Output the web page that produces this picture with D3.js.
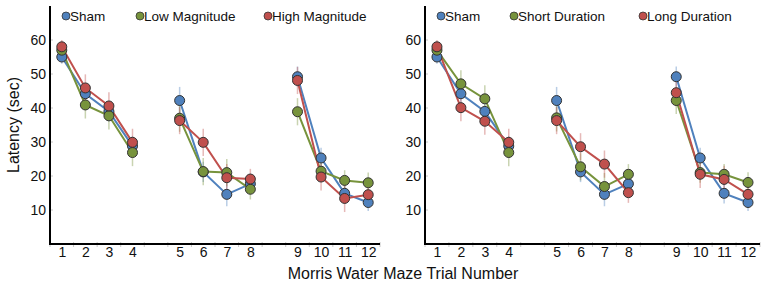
<!DOCTYPE html>
<html>
<head>
<meta charset="utf-8">
<script src="https://cdn.jsdelivr.net/npm/d3@7"></script>
<style>
	body { margin: 0; background: #fff; }
	text { font-family: "Liberation Sans", Arial, sans-serif; fill: #111; }
</style>
</head>
<body>
<div id="chart"></div>
<script>

var trials = [1, 2, 3, 4, 5, 6, 7, 8, 9, 10, 11, 12];
var yTicks = [10, 20, 30, 40, 50, 60];

// sham is shared by both panels
var sham      = [55.0, 44.2, 39.0, 28.8, 42.2, 21.2, 14.6, 17.7, 49.2, 25.3, 14.9, 12.2];
var shamErr   = [2.0, 3.0, 3.0, 3.0, 4.0, 3.0, 3.5, 3.0, 3.0, 3.0, 3.0, 2.5];

var lowMag    = [57.0, 40.9, 37.7, 26.9, 37.0, 21.3, 21.0, 16.1, 38.9, 21.4, 18.7, 18.0];
var lowErr    = [2.0, 4.0, 4.0, 4.0, 4.0, 4.0, 4.0, 3.0, 4.0, 3.0, 3.0, 3.0];
var highMag   = [58.0, 45.9, 40.6, 29.9, 36.3, 29.9, 19.5, 19.1, 48.1, 19.7, 13.4, 14.5];
var highErr   = [2.0, 4.0, 4.0, 4.0, 4.0, 4.0, 4.0, 3.0, 4.0, 4.0, 4.0, 3.0];

var shortDur  = [57.0, 47.1, 42.7, 26.9, 37.1, 22.7, 16.9, 20.5, 42.2, 21.0, 20.5, 18.1];
var shortErr  = [2.0, 4.0, 4.0, 4.0, 4.0, 4.0, 4.0, 3.0, 4.0, 3.0, 3.0, 3.0];
var longDur   = [58.0, 40.1, 36.1, 29.9, 36.3, 28.6, 23.5, 15.1, 44.5, 20.5, 19.0, 14.6];
var longErr   = [2.0, 4.0, 4.0, 4.0, 4.0, 4.0, 4.0, 3.0, 4.0, 4.0, 4.0, 3.0];

var blue = "#4f81bd";
var green = "#77933c";
var red = "#c0504d";

function init(){

	var w = 764;
	var h = 285;
	var top = 6, bottom = 244;

	var svg = d3.select("#chart")
				.append("svg")
				.attr("width", w)
				.attr("height", h);

	var yScale = d3.scaleLinear()
					.domain([0, 70])
					.range([bottom, top]);

	// slot position leaves a blank slot between each block of 4 trials
	function slot(t){
		return t + Math.floor((t - 1) / 4);
	}

	function drawPanel(x0, x1, series, legendX){
		var xScale = d3.scaleLinear()
						.domain([0.5, 14.5])
						.range([x0, x1]);

		var g = svg.append("g");

		// small grey ticks between the trials
		var halfTicks = d3.range(0.5, 15, 1);
		g.selectAll(".minor")
			.data(halfTicks)
			.enter()
			.append("line")
			.attr("x1", function(d){ return xScale(d); })
			.attr("x2", function(d){ return xScale(d); })
			.attr("y1", bottom - 2)
			.attr("y2", bottom + 3)
			.attr("stroke", "#c8c8c8")
			.attr("stroke-width", 1);

		g.selectAll(".ytk")
			.data(yTicks)
			.enter()
			.append("line")
			.attr("x1", x0)
			.attr("x2", x0 + 3)
			.attr("y1", function(d){ return yScale(d); })
			.attr("y2", function(d){ return yScale(d); })
			.attr("stroke", "#c8c8c8");

		var xAxis = d3.axisBottom()
						.scale(xScale)
						.tickValues(trials.map(slot))
						.tickSize(0)
						.tickPadding(3)
						.tickFormat(function(d, i){ return trials[i]; });

		var xg = g.append("g")
			.attr("transform", "translate(0," + bottom + ")")
			.call(xAxis);
		xg.select(".domain").remove();
		xg.selectAll("text").attr("font-size", 14).attr("fill", "#111");

		var yAxis = d3.axisLeft()
						.scale(yScale)
						.tickValues(yTicks)
						.tickSize(0)
						.tickPadding(4);

		var yg = g.append("g")
			.attr("transform", "translate(" + x0 + ",0)")
			.call(yAxis);
		yg.select(".domain").remove();
		yg.selectAll("text").attr("font-size", 14).attr("fill", "#111");

		// axis lines
		g.append("line")
			.attr("x1", x0).attr("x2", x0)
			.attr("y1", top).attr("y2", bottom + 1)
			.attr("stroke", "#000").attr("stroke-width", 2);
		g.append("line")
			.attr("x1", x0 - 1).attr("x2", x1)
			.attr("y1", bottom).attr("y2", bottom)
			.attr("stroke", "#000").attr("stroke-width", 2);

		series.forEach(function(s){
			var pts = trials.map(function(t, i){
				return {t: t, v: s.values[i], e: s.err[i]};
			});

			// error bars
			g.selectAll(null)
				.data(pts)
				.enter()
				.append("line")
				.attr("x1", function(d){ return xScale(slot(d.t)); })
				.attr("x2", function(d){ return xScale(slot(d.t)); })
				.attr("y1", function(d){ return yScale(d.v - d.e); })
				.attr("y2", function(d){ return yScale(d.v + d.e); })
				.attr("stroke", s.color)
				.attr("stroke-opacity", 0.4)
				.attr("stroke-width", 1.5);
		});

		series.forEach(function(s){
			var pts = trials.map(function(t, i){
				return {t: t, v: s.values[i]};
			});

			var line = d3.line()
							.x(function(d){ return xScale(slot(d.t)); })
							.y(function(d){ return yScale(d.v); });

			// one line per block of four trials
			[0, 1, 2].forEach(function(b){
				g.append("path")
					.datum(pts.slice(b * 4, b * 4 + 4))
					.attr("d", line)
					.attr("fill", "none")
					.attr("stroke", s.color)
					.attr("stroke-width", 2);
			});
		});

		series.forEach(function(s){
			g.selectAll(null)
				.data(trials)
				.enter()
				.append("circle")
				.attr("cx", function(d){ return xScale(slot(d)); })
				.attr("cy", function(d, i){ return yScale(s.values[i]); })
				.attr("r", 5)
				.attr("fill", s.color)
				.attr("stroke", "#333")
				.attr("stroke-width", 1);
		});

		// legend
		series.forEach(function(s, i){
			var lg = g.append("g")
				.attr("transform", "translate(" + legendX[i] + ",16)");
			lg.append("circle")
				.attr("r", 4)
				.attr("fill", s.color)
				.attr("stroke", "#333")
				.attr("stroke-width", 0.8);
			lg.append("text")
				.attr("x", 4)
				.attr("y", 5)
				.attr("font-size", 13.5)
				.text(s.name);
		});
	}

	drawPanel(50, 380, [
		{name: "Sham", values: sham, err: shamErr, color: blue},
		{name: "Low Magnitude", values: lowMag, err: lowErr, color: green},
		{name: "High Magnitude", values: highMag, err: highErr, color: red}
	], [66, 140, 268]);

	drawPanel(425, 760, [
		{name: "Sham", values: sham, err: shamErr, color: blue},
		{name: "Short Duration", values: shortDur, err: shortErr, color: green},
		{name: "Long Duration", values: longDur, err: longErr, color: red}
	], [441, 514, 643]);

	svg.append("text")
		.attr("x", 403)
		.attr("y", 279)
		.attr("text-anchor", "middle")
		.attr("font-size", 16)
		.text("Morris Water Maze Trial Number");

	svg.append("text")
		.attr("transform", "translate(19,125) rotate(-90)")
		.attr("text-anchor", "middle")
		.attr("font-size", 16)
		.text("Latency (sec)");
}

window.onload = init;
</script>
</body>
</html>
